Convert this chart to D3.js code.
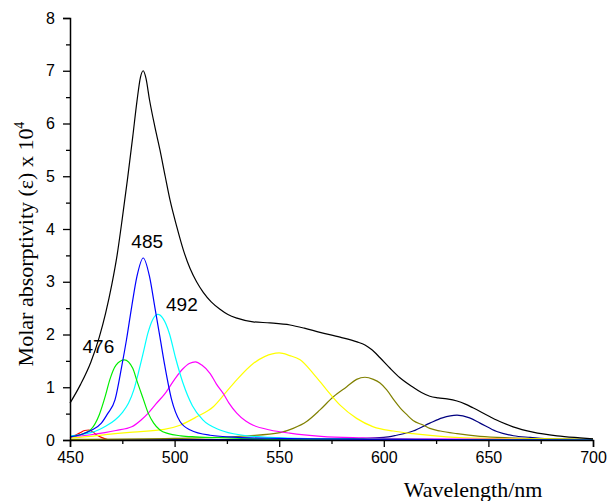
<!DOCTYPE html>
<html>
<head>
<meta charset="utf-8">
<script src="https://cdn.jsdelivr.net/npm/d3@7/dist/d3.min.js"></script>
<style>
  html, body { margin: 0; padding: 0; background: #fff; }
  svg { display: block; }
</style>
</head>
<body>
<svg id="chart" width="608" height="501"></svg>
<script>
// Absorption spectrum (black) and its fitted component bands, [wavelength nm, epsilon x 10^4]
const total = [[450,0.70],[455,1.05],[460,1.48],[464,1.95],[467,2.4],[470,2.95],[472.5,3.5],[475,4.2],[477.5,4.95],[480,5.75],[482,6.42],[483.7,6.88],[485,7.0],[486.3,6.86],[488,6.45],[490.5,5.95],[493,5.5],[495.5,5.0],[497.8,4.55],[501,4.05],[504.2,3.6],[507.4,3.25],[510.5,3.0],[513.7,2.8],[517.5,2.62],[521.7,2.48],[525.5,2.38],[529.8,2.31],[537.5,2.24],[545.6,2.22],[555.2,2.18],[562,2.12],[569.5,2.04],[579.1,1.95],[587.2,1.86],[591,1.8],[594,1.72],[598.2,1.56],[603,1.36],[607.7,1.18],[614,1.0],[618,0.9],[622,0.83],[626,0.8],[630.2,0.78],[635,0.74],[639,0.68],[642.6,0.61],[650.8,0.44],[656,0.34],[661.8,0.25],[671.3,0.15],[682.8,0.08],[693.8,0.04],[700,0.02]];

const bandRed = [[450,0.04],[452,0.08],[454.5,0.13],[457,0.18],[459,0.19],[461,0.15],[463,0.09],[465,0.05],[468,0.01],[470,0],[700,0]];

const bandGreen = [[450,0.06],[455,0.1],[460,0.2],[464,0.48],[467,0.85],[469,1.14],[472,1.42],[476,1.52],[480,1.36],[482,1.12],[485,0.78],[487.5,0.5],[490,0.32],[493,0.19],[497,0.12],[503,0.08],[510,0.06],[525,0.04],[550,0.02],[600,0.01],[700,0]];

const bandBlue = [[450,0.06],[455,0.1],[460,0.18],[465,0.32],[468,0.5],[471.5,0.76],[474.7,1.39],[477,1.9],[479.5,2.53],[482,3.1],[485,3.45],[488,3.1],[490.5,2.53],[493,1.95],[495.4,1.39],[498.6,0.76],[502.6,0.35],[507.5,0.19],[517,0.09],[530,0.05],[550,0.03],[600,0.01],[650,0.005],[700,0]];

const bandCyan = [[450,0.08],[455,0.1],[460,0.14],[463.5,0.19],[467,0.26],[471.5,0.38],[475,0.52],[478,0.7],[480.5,0.95],[482.6,1.26],[485,1.65],[487.2,2.02],[489.5,2.28],[492,2.38],[494.5,2.3],[497.5,2.02],[500.5,1.55],[504,1.08],[508.5,0.65],[513.5,0.38],[521.7,0.19],[532.7,0.09],[545.6,0.05],[560,0.03],[600,0.01],[700,0]];

const bandMagenta = [[450,0.06],[460,0.1],[466.7,0.14],[472,0.18],[479.5,0.25],[484,0.38],[487.4,0.51],[491,0.68],[495.4,0.88],[500,1.15],[504,1.35],[507,1.45],[510,1.48],[513,1.42],[517,1.26],[520,1.06],[523.3,0.88],[526,0.7],[529.7,0.51],[534,0.36],[537.6,0.28],[545.6,0.19],[555,0.13],[570,0.07],[590,0.04],[620,0.02],[660,0.01],[700,0]];

const bandYellow = [[450,0.04],[460,0.07],[471.5,0.12],[480,0.15],[495,0.2],[502.6,0.28],[510.6,0.44],[518.5,0.63],[524.9,0.92],[529.7,1.14],[537.6,1.45],[543,1.58],[550,1.65],[555,1.6],[560,1.52],[566.3,1.26],[572.7,0.95],[579.1,0.66],[587,0.41],[595,0.25],[604.5,0.17],[614,0.12],[630,0.06],[650,0.03],[675,0.02],[700,0.01]];

const bandOlive = [[450,0.01],[500,0.03],[520,0.05],[535,0.08],[550.4,0.14],[556.7,0.22],[563.1,0.35],[569.5,0.57],[575.9,0.82],[582.3,1.01],[587,1.15],[591,1.19],[595,1.15],[598.2,1.08],[601.4,0.95],[605,0.75],[608,0.6],[611,0.48],[614,0.37],[619,0.28],[622,0.22],[627,0.17],[635,0.12],[646,0.07],[660,0.04],[680,0.02],[700,0.01]];

const bandNavy = [[450,0.005],[550,0.01],[580,0.02],[600,0.05],[606,0.09],[614,0.17],[622,0.32],[628,0.42],[635,0.47],[641,0.42],[646,0.32],[654,0.16],[662,0.08],[670,0.05],[680,0.02],[700,0.01]];

const seriesList = [
  { data: bandRed, color: "#ff0000" },
  { data: bandNavy, color: "#000080" },
  { data: bandOlive, color: "#808000" },
  { data: bandYellow, color: "#ffff00" },
  { data: bandMagenta, color: "#ff00ff" },
  { data: bandCyan, color: "#00ffff" },
  { data: bandGreen, color: "#00ee00" },
  { data: bandBlue, color: "#0000ff" },
  { data: total, color: "#000000" }
];

// Peak wavelengths called out on the plot
const peakLabels = [
  { nm: 476, band: bandGreen, dx: -26, dy: -7 },
  { nm: 485, band: bandBlue, dx: 4, dy: -10 },
  { nm: 492, band: bandCyan, dx: 24, dy: -3 }
];

const xTicks = [450, 500, 550, 600, 650, 700];
const xMinor = [475, 525, 575, 625, 675];
const yTicks = [0, 1, 2, 3, 4, 5, 6, 7, 8];
const yMinor = [0.5, 1.5, 2.5, 3.5, 4.5, 5.5, 6.5, 7.5];

const svg = d3.select("#chart");
const plotLeft = 70, plotRight = 593, plotTop = 18, plotBottom = 440;

const x = d3.scaleLinear().domain([450, 700]).range([plotLeft, plotRight]);
const y = d3.scaleLinear().domain([0, 8]).range([plotBottom, plotTop]);

const line = d3.line()
  .x(d => x(d[0]))
  .y(d => y(d[1]))
  .curve(d3.curveMonotoneX);

svg.append("g")
  .selectAll("path")
  .data(seriesList)
  .join("path")
  .attr("d", d => line(d.data))
  .attr("fill", "none")
  .attr("stroke", d => d.color)
  .attr("stroke-width", 1.2);

// Axes
const tickFont = "'Liberation Sans', Arial, sans-serif";

svg.append("g").attr("transform", `translate(0,${plotBottom})`)
  .call(d3.axisBottom(x).tickValues(xTicks).tickSize(7).tickPadding(5).tickFormat(d3.format("d")));
svg.append("g").attr("transform", `translate(0,${plotBottom})`)
  .call(d3.axisBottom(x).tickValues(xMinor).tickSize(4).tickFormat(""))
  .select(".domain").remove();

svg.append("g").attr("transform", `translate(${plotLeft},0)`)
  .call(d3.axisLeft(y).tickValues(yTicks).tickSize(7).tickPadding(8).tickFormat(d3.format("d")));
svg.append("g").attr("transform", `translate(${plotLeft},0)`)
  .call(d3.axisLeft(y).tickValues(yMinor).tickSize(4).tickFormat(""))
  .select(".domain").remove();

svg.selectAll(".domain").attr("stroke", "#000").attr("stroke-width", 1.5);
svg.selectAll(".tick line").attr("stroke", "#000").attr("stroke-width", 1.3);
svg.selectAll(".tick text")
  .attr("font-family", tickFont)
  .attr("font-size", 16)
  .attr("fill", "#000");

// Axis titles
const titleFont = "'Liberation Serif', 'Times New Roman', serif";

svg.append("text")
  .attr("x", 473)
  .attr("y", 497)
  .attr("text-anchor", "middle")
  .attr("font-family", titleFont)
  .attr("font-size", 22)
  .text("Wavelength/nm");

const yTitle = svg.append("text")
  .attr("transform", "translate(33,244) rotate(-90)")
  .attr("text-anchor", "middle")
  .attr("font-family", titleFont)
  .attr("font-size", 22);
yTitle.append("tspan").text("Molar absorptivity (ε) x 10");
yTitle.append("tspan").attr("dy", -9).attr("font-size", 14).text("4");

// Peak labels
svg.append("g")
  .selectAll("text")
  .data(peakLabels)
  .join("text")
  .attr("x", d => x(d.nm) + d.dx)
  .attr("y", d => {
    const pk = d.band.find(p => p[0] === d.nm);
    return y(pk[1]) + d.dy;
  })
  .attr("text-anchor", "middle")
  .attr("font-family", tickFont)
  .attr("font-size", 19)
  .text(d => d.nm);
</script>
</body>
</html>
